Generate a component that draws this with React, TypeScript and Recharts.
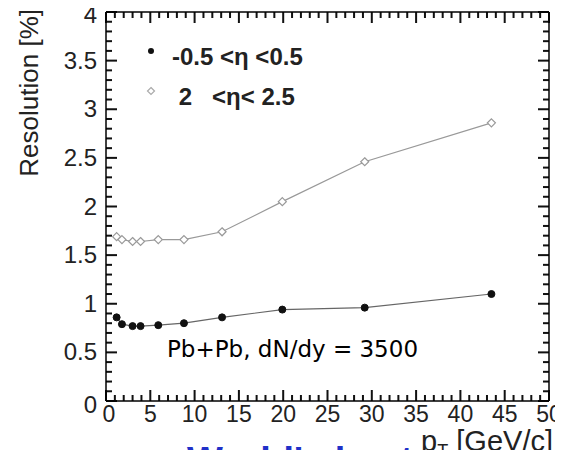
import React from 'react';
import { LineChart, Line, XAxis, YAxis, Legend, ReferenceLine } from 'recharts';

// pT [GeV/c] of the simulated points
const pT = [1.2, 1.8, 3.0, 3.9, 5.9, 8.8, 13.1, 19.9, 29.2, 43.5];
// resolution [%] for -0.5 < eta < 0.5
const central = [0.86, 0.79, 0.77, 0.77, 0.78, 0.8, 0.86, 0.94, 0.96, 1.1];
// resolution [%] for 2 < eta < 2.5
const forward = [1.69, 1.66, 1.64, 1.64, 1.66, 1.66, 1.74, 2.05, 2.46, 2.86];

const xMajor = [0, 5, 10, 15, 20, 25, 30, 35, 40, 45, 50];
const yMajor = [0, 0.5, 1, 1.5, 2, 2.5, 3, 3.5, 4];
const xMinor = Array.from({ length: 51 }, (_, i) => i);
const yMinor = Array.from({ length: 41 }, (_, i) => i / 10);

const data = pT.map((x, i) => ({ pT: x, central: central[i], forward: forward[i] }));

const font = '"Liberation Sans", Arial, Helvetica, sans-serif';
const frame = { stroke: '#000', strokeWidth: 1.5 };
const noLabel = () => <g />;
const MAJ = 11;
const MIN = 6;
const TW = 2;
const TICK = '#111';

const XLabel = (props: any) => {
  const { x, y, payload } = props;
  return (
    <text x={x + (payload.value === 0 ? 3 : 0)} y={y + 21} textAnchor="middle" fontSize={23} fontFamily={font} fill="#222">
      {payload.value}
    </text>
  );
};

const YLabel = (props: any) => {
  const { x, y, payload } = props;
  const shift = payload.value === 0 ? 4 : payload.value === 4 ? 3 : 0;
  return (
    <text x={x - 9} y={y + 8 + shift} textAnchor="end" fontSize={24} fontFamily={font} fill="#222">
      {payload.value}
    </text>
  );
};

// inward ticks on the bottom and top edges, placed by the x scale
const XTickMark = (p: any) => {
  const len = xMajor.includes(p.v) ? MAJ : MIN;
  const top = Math.min(p.y1, p.y2);
  const bottom = Math.max(p.y1, p.y2);
  return (
    <g>
      <rect x={p.x1 - TW / 2} y={bottom - len} width={TW} height={len} fill={TICK} />
      <rect x={p.x1 - TW / 2} y={top} width={TW} height={len} fill={TICK} />
    </g>
  );
};

// inward ticks on the left and right edges, placed by the y scale
const YTickMark = (p: any) => {
  const len = yMajor.includes(p.v) ? MAJ : MIN;
  const left = Math.min(p.x1, p.x2);
  const right = Math.max(p.x1, p.x2);
  return (
    <g>
      <rect x={left} y={p.y1 - TW / 2} width={len} height={TW} fill={TICK} />
      <rect x={right - len} y={p.y1 - TW / 2} width={len} height={TW} fill={TICK} />
    </g>
  );
};

const FilledDot = (props: any) => {
  const { cx, cy } = props;
  return <circle cx={cx} cy={cy} r={3.5} fill="#111" stroke="#111" />;
};

const OpenDot = (props: any) => {
  const { cx, cy } = props;
  const r = 4;
  return (
    <path
      d={`M${cx},${cy - r}L${cx + r},${cy}L${cx},${cy + r}L${cx - r},${cy}Z`}
      fill="#fff"
      stroke="#999"
      strokeWidth={1.2}
    />
  );
};

const legendLabels: Record<string, string> = {
  central: '-0.5 <\u03b7 <0.5',
  forward: ' 2   <\u03b7< 2.5',
};

const renderLegend = (props: any) => {
  const { payload } = props;
  return (
    <div>
      {payload.map((entry: any) => (
        <div key={entry.dataKey} style={{ display: 'flex', alignItems: 'center', height: 40 }}>
          <svg width={12} height={12} style={{ position: 'relative', top: -6 }}>
            {entry.dataKey === 'central' ? (
              <circle cx={6} cy={6} r={3} fill="#111" />
            ) : (
              <path d="M6,2.5L9.5,6L6,9.5L2.5,6Z" fill="#fff" stroke="#aaa" strokeWidth={1.2} />
            )}
          </svg>
          <span
            style={{
              marginLeft: 15,
              whiteSpace: 'pre',
              fontFamily: font,
              fontWeight: 'bold',
              fontSize: 24,
              color: '#222',
            }}
          >
            {legendLabels[entry.dataKey]}
          </span>
        </div>
      ))}
    </div>
  );
};

export default function App() {
  return (
    <div style={{ position: 'relative', width: 563, height: 458, overflow: 'hidden', margin: -8, background: '#fff' }}>
      <LineChart width={563} height={458} data={data} margin={{ top: 12, right: 14, bottom: 0, left: 0 }}>
        <XAxis
          xAxisId="b"
          type="number"
          dataKey="pT"
          domain={[0, 50]}
          allowDataOverflow
          ticks={xMajor}
          interval={0}
          height={57}
          tickLine={false}
          tickSize={0}
          tickMargin={0}
          axisLine={frame}
          tick={<XLabel />}
        />
        <XAxis
          xAxisId="t"
          orientation="top"
          mirror
          type="number"
          dataKey="pT"
          domain={[0, 50]}
          allowDataOverflow
          ticks={xMajor}
          height={1}
          tickLine={false}
          axisLine={frame}
          tick={noLabel}
        />
        <YAxis
          yAxisId="l"
          type="number"
          domain={[0, 4]}
          allowDataOverflow
          ticks={yMajor}
          interval={0}
          width={106}
          tickLine={false}
          tickSize={0}
          tickMargin={0}
          axisLine={frame}
          tick={<YLabel />}
        />
        <YAxis
          yAxisId="r"
          orientation="right"
          mirror
          type="number"
          domain={[0, 4]}
          allowDataOverflow
          ticks={yMajor}
          width={1}
          tickLine={false}
          axisLine={frame}
          tick={noLabel}
        />
        {xMinor.map((v) => (
          <ReferenceLine key={`xt${v}`} xAxisId="b" yAxisId="l" x={v} shape={<XTickMark v={v} />} />
        ))}
        {yMinor.map((v) => (
          <ReferenceLine key={`yt${v}`} xAxisId="b" yAxisId="l" y={v} shape={<YTickMark v={v} />} />
        ))}
        <Legend
          layout="vertical"
          verticalAlign="middle"
          align="center"
          content={renderLegend}
          wrapperStyle={{ position: 'absolute', left: 145, top: 37, width: 'auto', height: 'auto' }}
        />
        <Line
          xAxisId="b"
          yAxisId="l"
          dataKey="central"
          name="central"
          stroke="#666"
          strokeWidth={1.2}
          dot={<FilledDot />}
          activeDot={false}
          isAnimationActive={false}
        />
        <Line
          xAxisId="b"
          yAxisId="l"
          dataKey="forward"
          name="forward"
          stroke="#999"
          strokeWidth={1.2}
          dot={<OpenDot />}
          activeDot={false}
          isAnimationActive={false}
        />
      </LineChart>
      <svg width={563} height={458} style={{ position: 'absolute', left: 0, top: 0, pointerEvents: 'none' }}>
        <text transform="translate(38,9) rotate(-90)" textAnchor="end" fontSize={26} fontFamily={font} fill="#222">
          Resolution [%]
        </text>
        <text x={553} y={451} textAnchor="end" fontSize={29} fontFamily={font} fill="#222">
          <tspan>p</tspan>
          <tspan dy={6} fontSize={18}>T</tspan>
          <tspan dy={-6}> [GeV/c]</tspan>
        </text>
        <text x={167} y={357} fontSize={23} fontFamily='"DejaVu Sans", Verdana, sans-serif' fill="#000">
          Pb+Pb, dN/dy = 3500
        </text>
        <text x={187} y={474} fontSize={38} fontWeight="bold" fontFamily={font} fill="#2030c8">
          World's best
        </text>
      </svg>
    </div>
  );
}
